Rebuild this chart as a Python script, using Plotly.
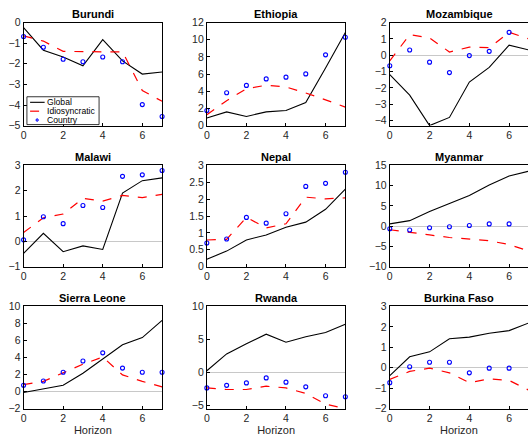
import plotly.graph_objects as go

horizon = [0, 1, 2, 3, 4, 5, 6, 7]
countries = ["Burundi", "Ethiopia", "Mozambique", "Malawi", "Nepal", "Myanmar",
             "Sierra Leone", "Rwanda", "Burkina Faso"]

global_burundi = [-0.25, -1.34, -1.67, -2.1, -0.83, -1.86, -2.5, -2.4]
idio_burundi = [-0.65, -0.9, -1.4, -1.42, -1.42, -1.42, -3.3, -3.82]
country_burundi = [-0.68, -1.2, -1.78, -1.9, -1.67, -1.9, -3.98, -4.56]

global_ethiopia = [0.88, 1.6, 1.07, 1.6, 1.76, 2.68, 6.7, 10.85]
idio_ethiopia = [1.27, 2.9, 4.3, 4.7, 4.5, 3.8, 3.0, 2.15]
country_ethiopia = [1.76, 3.83, 4.68, 5.44, 5.64, 6.02, 8.24, 10.28]

global_mozambique = [-1.18, -2.44, -4.3, -3.8, -1.64, -0.74, 0.62, 0.32]
idio_mozambique = [-0.34, 1.26, 1.06, 0.2, 0.5, 0.46, 1.4, 1.0]
country_mozambique = [-0.64, 0.32, -0.42, -1.06, -0.02, 0.24, 1.4, 0.76]

global_malawi = [-0.48, 0.32, -0.41, -0.18, -0.32, 1.91, 2.4, 2.51]
idio_malawi = [0.35, 0.93, 1.08, 1.7, 1.59, 1.82, 1.73, 1.86]
country_malawi = [0.06, 0.97, 0.7, 1.42, 1.34, 2.57, 2.63, 2.8]

global_nepal = [0.22, 0.46, 0.79, 0.94, 1.17, 1.32, 1.7, 2.3]
idio_nepal = [0.79, 0.81, 1.46, 1.15, 1.27, 2.06, 2.01, 2.04]
country_nepal = [0.7, 0.82, 1.46, 1.29, 1.57, 2.38, 2.47, 2.8]

global_myanmar = [0.56, 1.36, 3.6, 5.6, 7.6, 10.2, 12.4, 13.6]
idio_myanmar = [-0.88, -1.6, -2.16, -2.8, -3.2, -3.6, -4.55, -6.15]
country_myanmar = [-0.64, -0.96, -0.4, -0.16, 0.16, 0.56, 0.56, -0.64]

global_sierra = [-0.1, 0.36, 0.74, 2.15, 3.8, 5.5, 6.34, 8.36]
idio_sierra = [0.82, 1.2, 2.2, 3.22, 4.06, 1.96, 1.2, 0.55]
country_sierra = [0.74, 1.24, 2.27, 3.6, 4.55, 2.76, 2.27, 2.27]

global_rwanda = [0.25, 2.8, 4.33, 5.8, 4.58, 5.42, 6.06, 7.3]
idio_rwanda = [-2.36, -2.6, -2.6, -2.1, -2.36, -3.2, -4.83, -5.5]
country_rwanda = [-2.36, -1.97, -1.6, -0.84, -1.48, -2.2, -3.55, -3.7]

global_burkina = [-0.38, 0.54, 0.78, 1.42, 1.5, 1.69, 1.82, 2.2]
idio_burkina = [-0.57, -0.18, -0.02, -0.25, -0.73, -0.54, -0.62, -1.1]
country_burkina = [-0.73, 0.05, 0.27, 0.27, -0.25, -0.02, -0.02, -0.51]

global_series = [global_burundi, global_ethiopia, global_mozambique, global_malawi,
                 global_nepal, global_myanmar, global_sierra, global_rwanda, global_burkina]
idio_series = [idio_burundi, idio_ethiopia, idio_mozambique, idio_malawi,
               idio_nepal, idio_myanmar, idio_sierra, idio_rwanda, idio_burkina]
country_series = [country_burundi, country_ethiopia, country_mozambique, country_malawi,
                  country_nepal, country_myanmar, country_sierra, country_rwanda, country_burkina]

y_ranges = [[-5, 0], [0, 12], [-4.3, 2], [-1, 3], [0, 3], [-10, 15], [-2, 10], [-5.5, 10], [-2, 3]]
y_dticks = [1, 2, 1, 1, 0.5, 5, 2, 5, 1]

W, H = 528, 436
col_px = [(20.7, 160.0), (205.0, 344.3), (389.0, 528.0)]
row_px = [(17.0, 123.0), (164.0, 268.0), (309.0, 414.0)]

fig = go.Figure()
font_fam = "'Liberation Sans', Arial, Helvetica, sans-serif"
layout = dict(width=W, height=H, margin=dict(l=0, r=0, t=0, b=0),
              paper_bgcolor="white", plot_bgcolor="white", showlegend=False,
              font=dict(family=font_fam, size=10, color="#262626"))
annotations = []
shapes = []

for i in range(9):
    r, c = divmod(i, 3)
    ax = "" if i == 0 else str(i + 1)
    xa, ya = "x" + ax, "y" + ax
    x0p, x1p = col_px[c]
    y0p, y1p = row_px[r]
    xdom = [x0p / W, min(x1p / W, 1.0)]
    ydom = [1 - y1p / H, 1 - y0p / H]
    xr = [0, 7] if c < 2 else [0, 7 * (528 - 389.0) / 140.0]
    fig.add_trace(go.Scatter(x=horizon, y=global_series[i], mode="lines",
                             line=dict(color="black", width=1.1), xaxis=xa, yaxis=ya,
                             name="Global"))
    fig.add_trace(go.Scatter(x=horizon, y=idio_series[i], mode="lines",
                             line=dict(color="red", width=1.2, dash="dash"), xaxis=xa, yaxis=ya,
                             name="Idiosyncratic"))
    fig.add_trace(go.Scatter(x=horizon, y=country_series[i], mode="markers",
                             marker=dict(symbol="circle-open", size=4, color="blue",
                                         line=dict(width=1.1, color="blue")),
                             xaxis=xa, yaxis=ya, name="Country", cliponaxis=False))
    xaxis = dict(domain=xdom, anchor=ya, range=xr, tickvals=[0, 2, 4, 6],
                 showline=True, linecolor="black", linewidth=1, mirror=True,
                 ticks="inside", ticklen=3, tickcolor="black", showgrid=False,
                 zeroline=False, tickfont=dict(size=10.5, color="#262626"))
    if r == 2:
        xaxis["title"] = dict(text="Horizon", font=dict(size=11, color="#262626"), standoff=2)
    yaxis = dict(domain=ydom, anchor=xa, range=y_ranges[i], dtick=y_dticks[i],
                 showline=True, linecolor="black", linewidth=1,
                 mirror=(True if c < 2 else False),
                 ticks="inside", ticklen=3, tickcolor="black", showgrid=False,
                 zeroline=True, zerolinecolor="#c8c8c8", zerolinewidth=1,
                 tickfont=dict(size=10.5, color="#262626"))
    layout["xaxis" + ax] = xaxis
    layout["yaxis" + ax] = yaxis
    annotations.append(dict(text="<b>" + countries[i] + "</b>", xref="paper", yref="paper",
                            x=(x0p + (x1p if c < 2 else 529.0)) / 2 / W, y=1 - (y0p - 1) / H,
                            xanchor="center", yanchor="bottom", showarrow=False,
                            font=dict(size=11, color="black", family=font_fam)))

# legend (inside Burundi panel), drawn in axis-domain coordinates
xd, yd = "x domain", "y domain"
shapes.append(dict(type="rect", xref=xd, yref=yd, x0=0.024, x1=0.545, y0=0.01, y1=0.28,
                   line=dict(color="black", width=0.8), fillcolor="white", layer="above"))
leg_items = [("Global", 0.226), ("Idiosyncratic", 0.14), ("Country", 0.054)]
shapes.append(dict(type="line", xref=xd, yref=yd, x0=0.047, x1=0.152, y0=0.226, y1=0.226,
                   line=dict(color="black", width=1.1), layer="above"))
shapes.append(dict(type="line", xref=xd, yref=yd, x0=0.047, x1=0.152, y0=0.14, y1=0.14,
                   line=dict(color="red", width=1.2, dash="dash"), layer="above"))
shapes.append(dict(type="circle", xref=xd, yref=yd, x0=0.090, x1=0.106, y0=0.042, y1=0.066,
                   line=dict(color="blue", width=1.0), fillcolor="rgba(120,120,255,0.6)", layer="above"))
for name, yv in leg_items:
    annotations.append(dict(text=name, xref=xd, yref=yd, x=0.156, y=yv, xanchor="left",
                            yanchor="middle", showarrow=False,
                            font=dict(size=8.6, color="black", family=font_fam)))

layout["annotations"] = annotations
layout["shapes"] = shapes
fig.update_layout(**layout)
fig.write_html("out.html")
